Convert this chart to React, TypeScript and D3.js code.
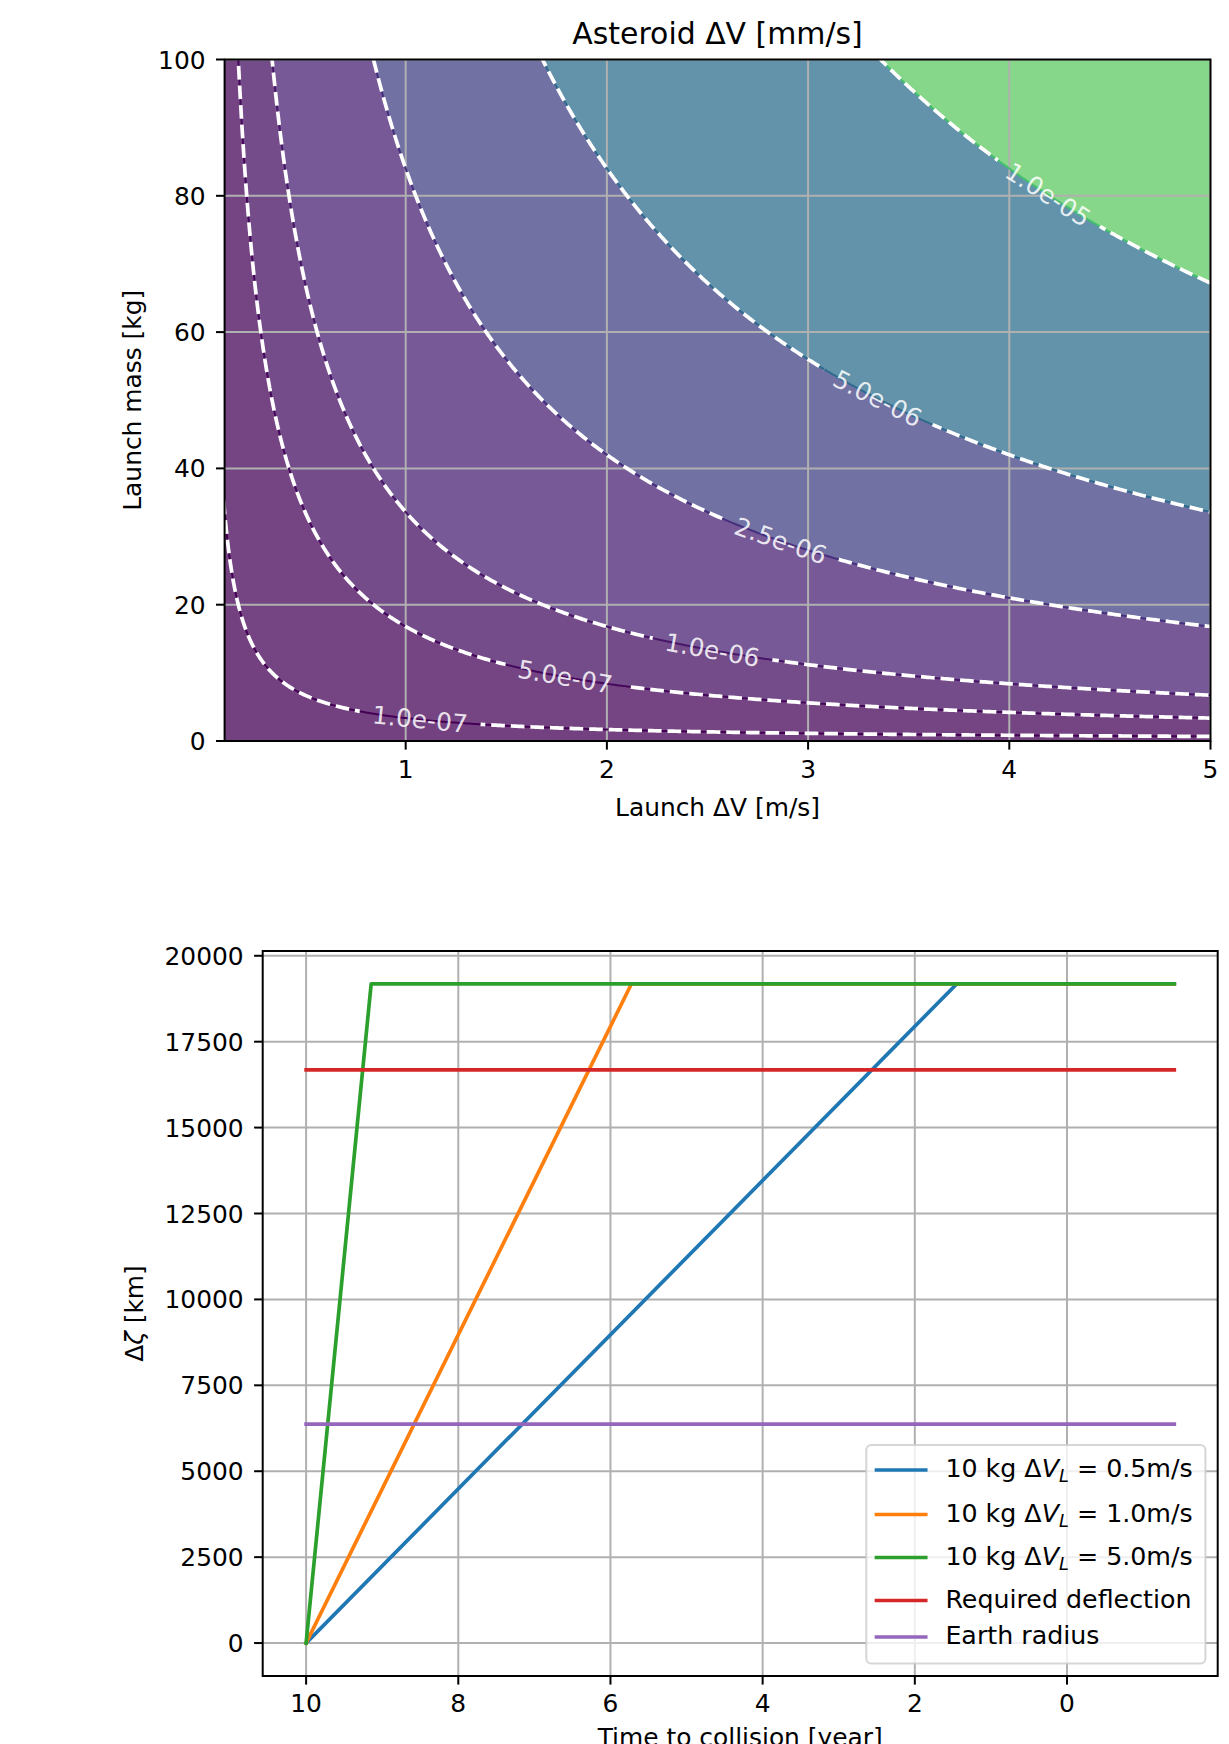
import React from 'react';
import * as d3 from 'd3';

const W = 1229;
const H = 1744;
const FONT = "'DejaVu Sans', 'Noto Sans', sans-serif";
const FS = 24.9;
const LEG_FS = 25.3;
const TITLE_FS = 29.9;

// ================= Top panel data =================
const launchDvExtent = [0.1, 5]; // m/s
const launchMassExtent = [0, 100]; // kg
const topXTicks = [1, 2, 3, 4, 5];
const topYTicks = [0, 20, 40, 60, 80, 100];
const dvLevels = [1e-7, 5e-7, 1e-6, 2.5e-6, 5e-6, 1e-5]; // asteroid ΔV, mm/s
const dvLevelLabels = ['1.0e-07', '5.0e-07', '1.0e-06', '2.5e-06', '5.0e-06', '1.0e-05'];
const dvLabelAtLaunchDv = [1.071, 1.792, 2.524, 2.863, 3.345, 4.192];
const asteroidMassKg = [3.36e10];
const bandViridisPos = [0, 0.015, 0.04, 0.09, 0.195, 0.36, 0.75];
const lineViridisPos = [0, 0.02, 0.06, 0.14, 0.34, 0.7];

// ================= Bottom panel data =================
const seriesNames = [
  '10 kg ΔV_L = 0.5m/s',
  '10 kg ΔV_L = 1.0m/s',
  '10 kg ΔV_L = 5.0m/s',
  'Required deflection',
  'Earth radius',
];
const timeToCollision = [
  [10, 1.45, -1.41],
  [10, 5.725, -1.41],
  [10, 9.145, -1.41],
  [10, -1.41],
  [10, -1.41],
];
const deltaZeta = [
  [0, 19180, 19180],
  [0, 19180, 19180],
  [0, 19180, 19180],
  [16680, 16680],
  [6371, 6371],
];
const seriesColors = ['#1f77b4', '#ff7f0e', '#2ca02c', '#d62728', '#9467bd'];
const botXTicks = [10, 8, 6, 4, 2, 0];
const botYTicks = [0, 2500, 5000, 7500, 10000, 12500, 15000, 17500, 20000];

// ================= Layout =================
const TOP = { left: 224.6, right: 1210.5, top: 59.5, bottom: 741 };
const BOT = { left: 262.7, right: 1217.7, top: 951, bottom: 1676 };
const TICK = 8.6;
const GRID = '#b0b0b0';

const charW: Record<string, number> = {
  '0': 0.636, '1': 0.636, '2': 0.636, '3': 0.636, '4': 0.636, '5': 0.636,
  '6': 0.636, '7': 0.636, '8': 0.636, '9': 0.636, '.': 0.318, e: 0.615, '-': 0.361,
};
const textW = (s: string) => s.split('').reduce((a, c) => a + (charW[c] ?? 0.6), 0) * FS;

const blend = (p: number) => d3.interpolateRgb('#ffffff', d3.interpolateViridis(p))(0.75);

function LegendLabel({ text, x, y }: { text: string; x: number; y: number }) {
  if (text.includes('ΔV_L')) {
    const [pre, post] = text.split('ΔV_L');
    return (
      <text x={x} y={y} fontSize={LEG_FS} style={{ whiteSpace: 'pre' }}>
        {pre + 'Δ'}
        <tspan fontStyle="italic">V</tspan>
        <tspan fontStyle="italic" fontSize={LEG_FS * 0.7} dy={5}>L</tspan>
        <tspan dy={-5}>{post}</tspan>
      </text>
    );
  }
  return (
    <text x={x} y={y} fontSize={LEG_FS}>
      {text}
    </text>
  );
}

export default function App() {
  // ---------- top scales ----------
  const tx = d3.scaleLinear().domain(launchDvExtent).range([TOP.left, TOP.right]);
  const ty = d3.scaleLinear().domain(launchMassExtent).range([TOP.bottom, TOP.top]);

  // ---------- contour field ----------
  const NX = 420;
  const NY = 420;
  const [v0, v1] = launchDvExtent;
  const [m0, m1] = launchMassExtent;
  const dv = (v1 - v0) / (NX - 5);
  const dm = (m1 - m0) / (NY - 5);
  const vA = v0 - 2 * dv;
  const mA = m0 - 2 * dm;
  const M = asteroidMassKg[0];
  const values = new Array(NX * NY);
  for (let j = 0; j < NY; j++) {
    for (let i = 0; i < NX; i++) {
      const v = vA + i * dv;
      const m = mA + j * dm;
      values[i + j * NX] = ((m * v) / M) * 1000;
    }
  }
  const polys = d3.contours().size([NX, NY]).thresholds(dvLevels)(values);
  const pathOf = (mp: any) =>
    mp.coordinates
      .map((poly: any) =>
        poly
          .map(
            (ring: any) =>
              ring
                .map(
                  ([cx, cy]: number[], k: number) =>
                    (k ? 'L' : 'M') +
                    tx(vA + (cx - 0.5) * dv).toFixed(2) +
                    ',' +
                    ty(mA + (cy - 0.5) * dm).toFixed(2)
                )
                .join('') + 'Z'
          )
          .join('')
      )
      .join('');
  const contourPaths = polys.map(pathOf);

  // label placements along each level curve (m = c / v)
  const labels = dvLevels.map((lvl, i) => {
    const c = (lvl * M) / 1000;
    const v = dvLabelAtLaunchDv[i];
    const d = 0.01;
    const p1 = [tx(v - d), ty(c / (v - d))];
    const p2 = [tx(v + d), ty(c / (v + d))];
    const ang = (Math.atan2(p2[1] - p1[1], p2[0] - p1[0]) * 180) / Math.PI;
    return { x: tx(v), y: ty(c / v), ang, text: dvLevelLabels[i], w: textW(dvLevelLabels[i]) };
  });

  // ---------- bottom scales ----------
  const allT = timeToCollision.flat();
  const allZ = deltaZeta.flat();
  const tMin = d3.min(allT)!;
  const tMax = d3.max(allT)!;
  const zMin = d3.min(allZ)!;
  const zMax = d3.max(allZ)!;
  const tPad = (tMax - tMin) * 0.05;
  const zPad = (zMax - zMin) * 0.05;
  const bx = d3.scaleLinear().domain([tMax + tPad, tMin - tPad]).range([BOT.left, BOT.right]);
  const by = d3.scaleLinear().domain([zMin - zPad, zMax + zPad]).range([BOT.bottom, BOT.top]);
  const line = d3
    .line<[number, number]>()
    .x((d) => bx(d[0]))
    .y((d) => by(d[1]));

  // legend geometry
  const LG = { left: 866.3, top: 1445, right: 1205.4, bottom: 1663.5 };
  const rowBase = [32, 76.5, 119.5, 162.5, 199];

  return (
    <svg
      width={W}
      height={H}
      style={{ position: 'absolute', left: 0, top: 0 }}
      fontFamily={FONT}
    >
      <rect x={0} y={0} width={W} height={H} fill="#ffffff" />
      <defs>
        <clipPath id="topClip">
          <rect x={TOP.left} y={TOP.top} width={TOP.right - TOP.left} height={TOP.bottom - TOP.top} />
        </clipPath>
        <clipPath id="botClip">
          <rect x={BOT.left} y={BOT.top} width={BOT.right - BOT.left} height={BOT.bottom - BOT.top} />
        </clipPath>
        <mask id="labelMask" maskUnits="userSpaceOnUse" x={0} y={0} width={W} height={H}>
          <rect x={0} y={0} width={W} height={H} fill="#ffffff" />
          {labels.map((l, i) => (
            <rect
              key={i}
              x={-(l.w + 26) / 2}
              y={-FS * 0.55}
              width={l.w + 26}
              height={FS * 1.1}
              fill="#000000"
              transform={`translate(${l.x},${l.y}) rotate(${l.ang})`}
            />
          ))}
        </mask>
      </defs>

      {/* ================= TOP PANEL ================= */}
      <g clipPath="url(#topClip)">
        <rect
          x={TOP.left}
          y={TOP.top}
          width={TOP.right - TOP.left}
          height={TOP.bottom - TOP.top}
          fill={blend(bandViridisPos[0])}
        />
        {contourPaths.map((p, i) => (
          <path key={'f' + i} d={p} fill={blend(bandViridisPos[i + 1])} stroke="none" />
        ))}
        {topXTicks.map((t) => (
          <line key={'gx' + t} x1={tx(t)} x2={tx(t)} y1={TOP.top} y2={TOP.bottom} stroke={GRID} strokeWidth={2} />
        ))}
        {topYTicks.map((t) => (
          <line key={'gy' + t} x1={TOP.left} x2={TOP.right} y1={ty(t)} y2={ty(t)} stroke={GRID} strokeWidth={2} />
        ))}
        {contourPaths.map((p, i) => (
          <path
            key={'t' + i}
            d={p}
            fill="none"
            stroke={d3.interpolateViridis(lineViridisPos[i])}
            strokeWidth={2}
          />
        ))}
        <g mask="url(#labelMask)">
          {contourPaths.map((p, i) => (
            <path
              key={'d' + i}
              d={p}
              fill="none"
              stroke="#ffffff"
              strokeWidth={3.7}
              strokeDasharray="13.7 5.9"
            />
          ))}
        </g>
        {labels.map((l, i) => (
          <text
            key={'l' + i}
            transform={`translate(${l.x},${l.y}) rotate(${l.ang})`}
            textAnchor="middle"
            dominantBaseline="central"
            fontSize={FS}
            fill="#ffffff"
            fillOpacity={0.86}
          >
            {l.text}
          </text>
        ))}
      </g>
      <rect
        x={TOP.left}
        y={TOP.top}
        width={TOP.right - TOP.left}
        height={TOP.bottom - TOP.top}
        fill="none"
        stroke="#000"
        strokeWidth={2}
      />
      {topXTicks.map((t) => (
        <g key={'tx' + t}>
          <line x1={tx(t)} x2={tx(t)} y1={TOP.bottom} y2={TOP.bottom + TICK} stroke="#000" strokeWidth={2} />
          <text x={tx(t)} y={TOP.bottom + 36.5} textAnchor="middle" fontSize={FS}>
            {t}
          </text>
        </g>
      ))}
      {topYTicks.map((t) => (
        <g key={'ty' + t}>
          <line x1={TOP.left - TICK} x2={TOP.left} y1={ty(t)} y2={ty(t)} stroke="#000" strokeWidth={2} />
          <text x={TOP.left - 19} y={ty(t) + 0.3645 * FS} textAnchor="end" fontSize={FS}>
            {t}
          </text>
        </g>
      ))}
      <text x={(TOP.left + TOP.right) / 2} y={44} textAnchor="middle" fontSize={TITLE_FS}>
        Asteroid ΔV [mm/s]
      </text>
      <text x={(TOP.left + TOP.right) / 2} y={815.5} textAnchor="middle" fontSize={FS}>
        Launch ΔV [m/s]
      </text>
      <text
        transform={`translate(141,${(TOP.top + TOP.bottom) / 2}) rotate(-90)`}
        textAnchor="middle"
        fontSize={FS}
      >
        Launch mass [kg]
      </text>

      {/* ================= BOTTOM PANEL ================= */}
      <g>
        {botXTicks.map((t) => (
          <line key={'bgx' + t} x1={bx(t)} x2={bx(t)} y1={BOT.top} y2={BOT.bottom} stroke={GRID} strokeWidth={2} />
        ))}
        {botYTicks.map((t) => (
          <line key={'bgy' + t} x1={BOT.left} x2={BOT.right} y1={by(t)} y2={by(t)} stroke={GRID} strokeWidth={2} />
        ))}
      </g>
      <g clipPath="url(#botClip)">
        {timeToCollision.map((ts, i) => (
          <path
            key={'s' + i}
            d={line(ts.map((t, k) => [t, deltaZeta[i][k]] as [number, number]))!}
            fill="none"
            stroke={seriesColors[i]}
            strokeWidth={3.7}
            strokeLinecap="square"
            strokeLinejoin="round"
          />
        ))}
      </g>
      <rect
        x={BOT.left}
        y={BOT.top}
        width={BOT.right - BOT.left}
        height={BOT.bottom - BOT.top}
        fill="none"
        stroke="#000"
        strokeWidth={2}
      />
      {botXTicks.map((t) => (
        <g key={'bx' + t}>
          <line x1={bx(t)} x2={bx(t)} y1={BOT.bottom} y2={BOT.bottom + TICK} stroke="#000" strokeWidth={2} />
          <text x={bx(t)} y={BOT.bottom + 36} textAnchor="middle" fontSize={FS}>
            {t}
          </text>
        </g>
      ))}
      {botYTicks.map((t) => (
        <g key={'by' + t}>
          <line x1={BOT.left - TICK} x2={BOT.left} y1={by(t)} y2={by(t)} stroke="#000" strokeWidth={2} />
          <text x={BOT.left - 19} y={by(t) + 0.3645 * FS} textAnchor="end" fontSize={FS}>
            {t}
          </text>
        </g>
      ))}
      <text x={(BOT.left + BOT.right) / 2} y={1745.5} textAnchor="middle" fontSize={FS}>
        Time to collision [year]
      </text>
      <text
        transform={`translate(143,${(BOT.top + BOT.bottom) / 2}) rotate(-90)`}
        textAnchor="middle"
        fontSize={FS}
        style={{ whiteSpace: 'pre' }}
      >
        Δ<tspan fontStyle="italic">ζ</tspan> [km]
      </text>

      {/* legend */}
      <rect
        x={LG.left}
        y={LG.top}
        width={LG.right - LG.left}
        height={LG.bottom - LG.top}
        rx={4.9}
        ry={4.9}
        fill="#ffffff"
        fillOpacity={0.8}
        stroke="#cccccc"
        strokeOpacity={0.8}
        strokeWidth={2}
      />
      {seriesNames.map((name, i) => {
        const base = LG.top + rowBase[i];
        return (
          <g key={'lg' + i}>
            <line
              x1={876.5}
              x2={925.7}
              y1={base - 7}
              y2={base - 7}
              stroke={seriesColors[i]}
              strokeWidth={3.7}
              strokeLinecap="square"
            />
            <LegendLabel text={name} x={945.4} y={base} />
          </g>
        );
      })}
    </svg>
  );
}
